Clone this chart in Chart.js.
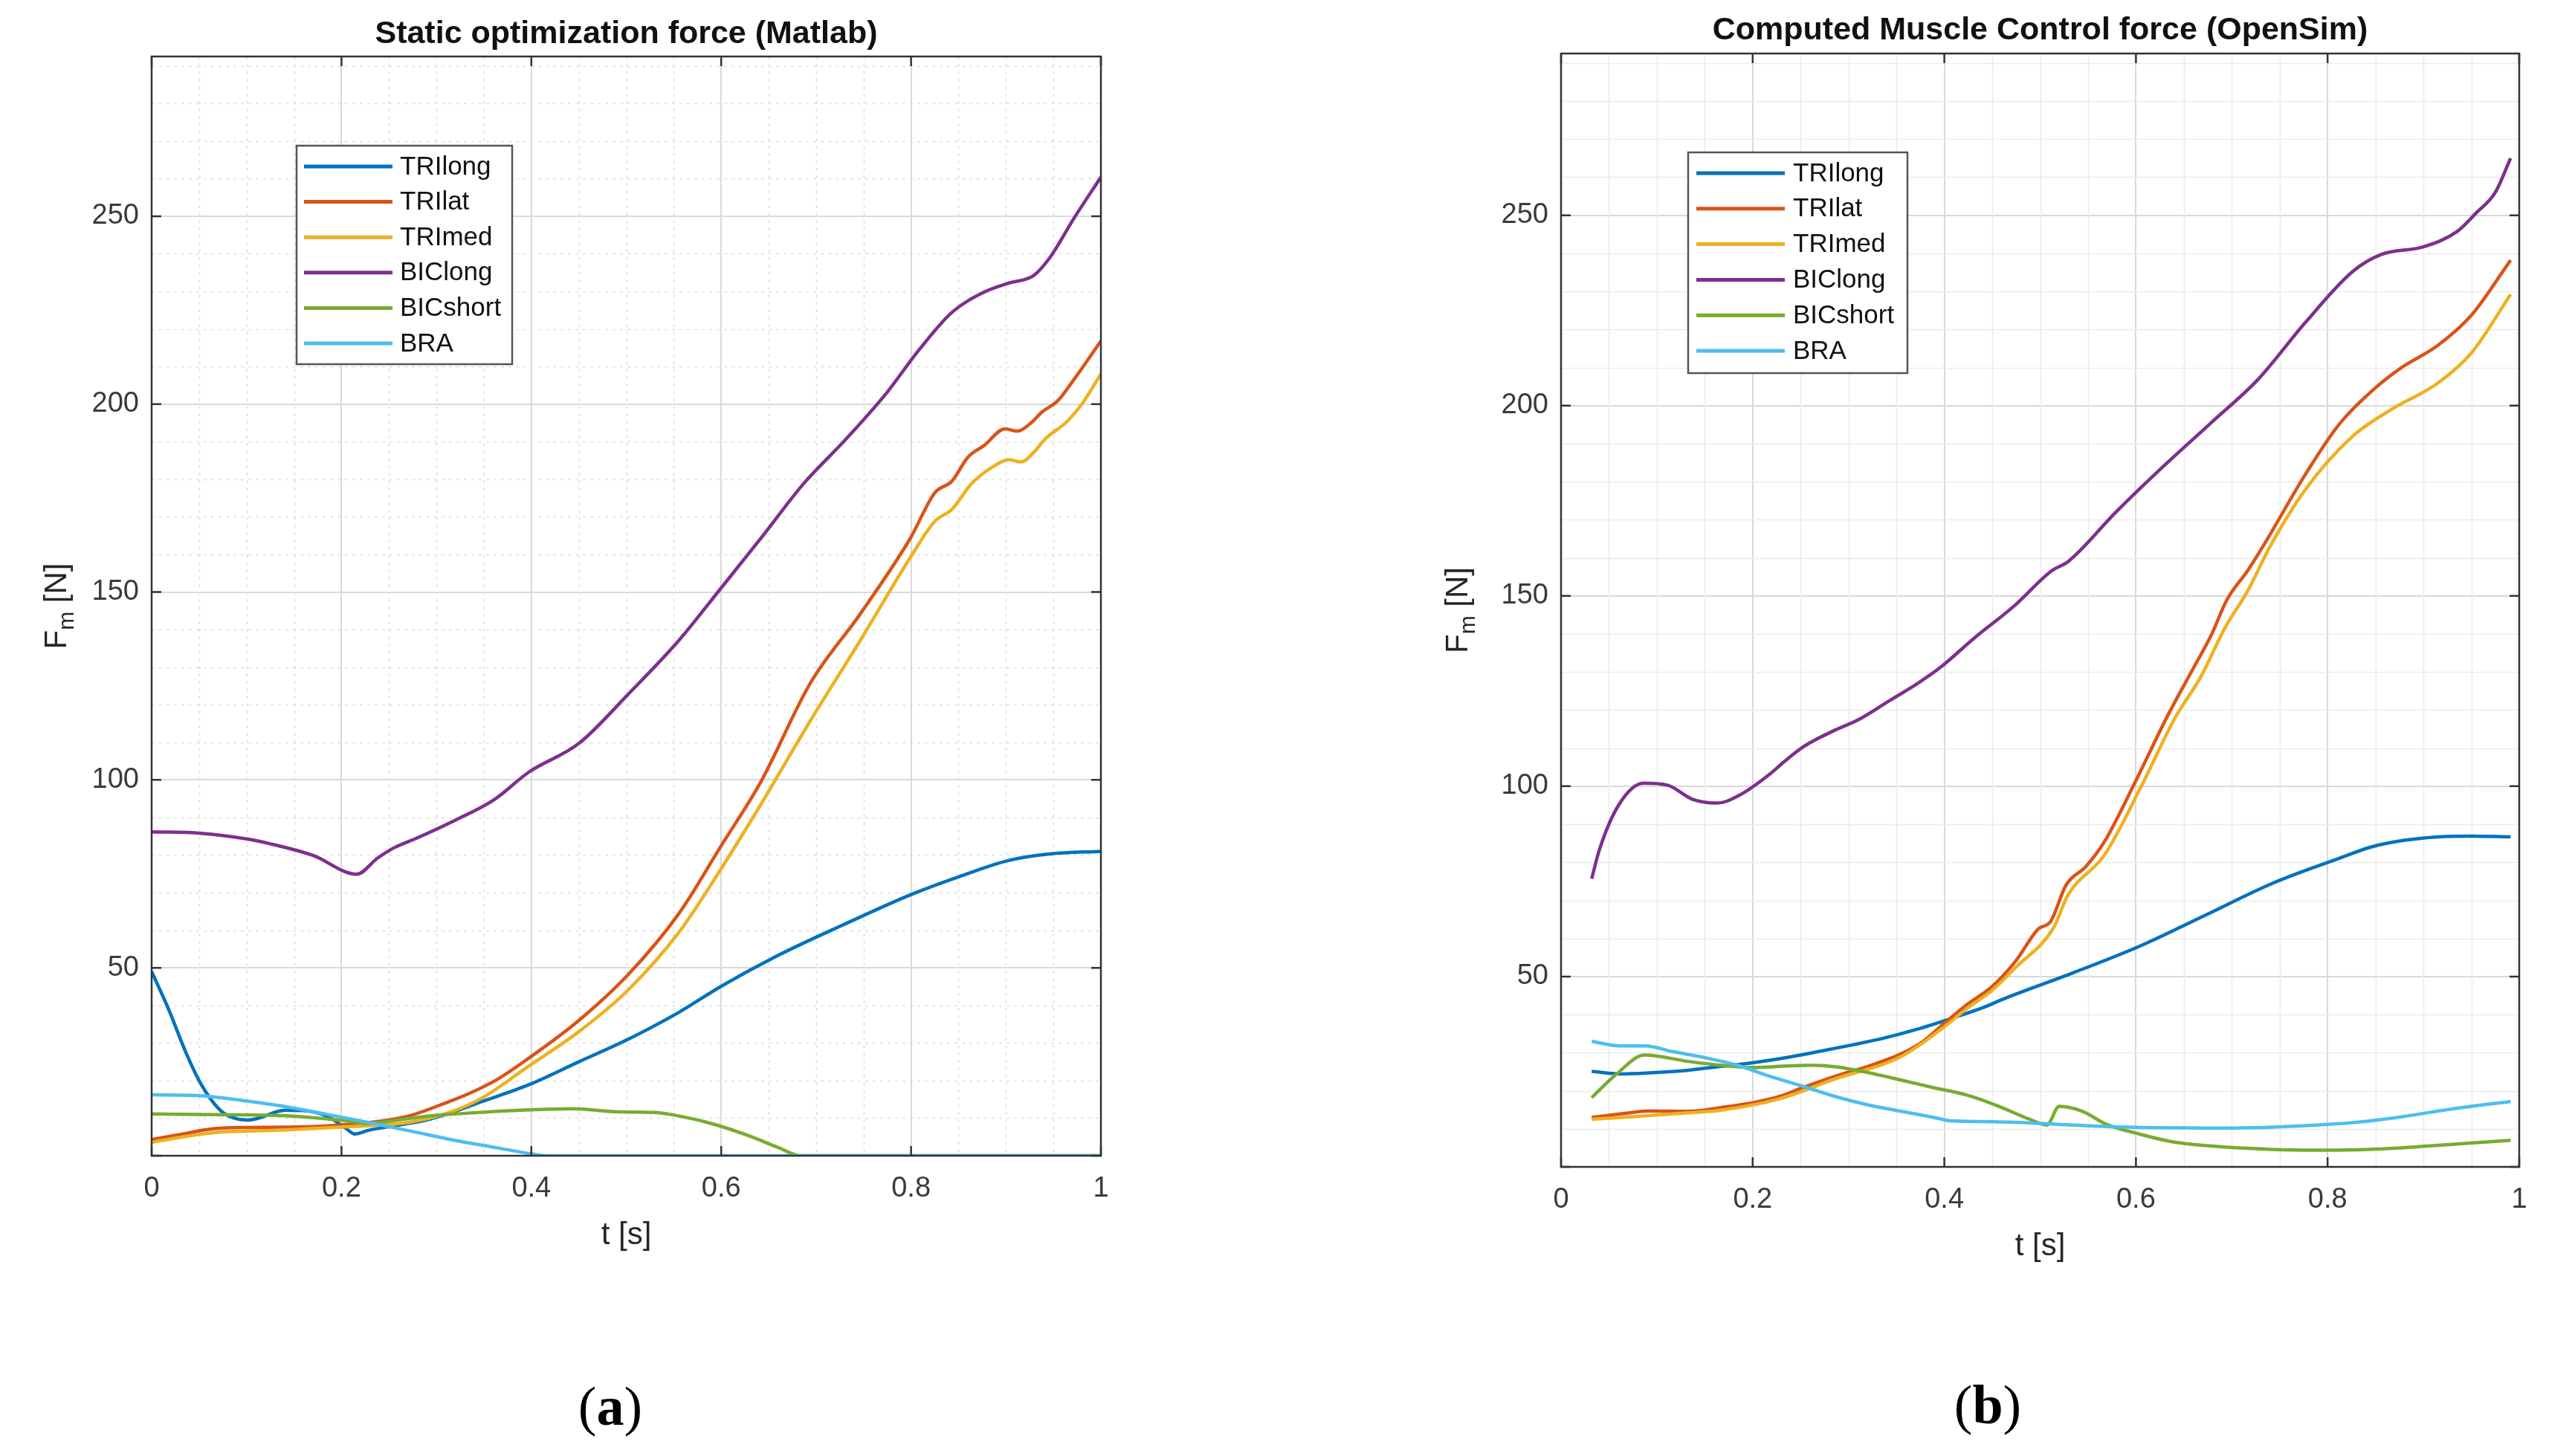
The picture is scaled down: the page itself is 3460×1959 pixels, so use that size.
<!DOCTYPE html>
<html>
<head>
<meta charset="utf-8">
<script src="https://cdn.jsdelivr.net/npm/chart.js@4.4.1/dist/chart.umd.min.js"></script>
<style>
  html, body { margin: 0; padding: 0; background: #fff; }
  #wrap { position: relative; width: 3460px; height: 1959px; overflow: hidden; background: #fff; }
  canvas { position: absolute; top: 0; }
</style>
</head>
<body>
<div id="wrap">
  <canvas id="chartA" width="1730" height="1959" style="left:0;width:1730px;height:1959px"></canvas>
  <canvas id="chartB" width="1730" height="1959" style="left:1730px;width:1730px;height:1959px"></canvas>
</div>
<script>
// ===== Data =====
const seriesNames = ['TRIlong', 'TRIlat', 'TRImed', 'BIClong', 'BICshort', 'BRA'];

const xTicks = [0, 0.2, 0.4, 0.6, 0.8, 1];
const yTicks = [0, 50, 100, 150, 200, 250];

// (a) Static optimization force (Matlab)
const aTriLongT = [0, 0.018, 0.036, 0.051, 0.063, 0.075, 0.09, 0.102, 0.114, 0.129, 0.141, 0.16, 0.185, 0.205, 0.214, 0.229, 0.259, 0.289, 0.31, 0.349, 0.3975, 0.45, 0.502, 0.555, 0.6, 0.659, 0.729, 0.8, 0.851, 0.903, 0.946, 1.0];
const aTriLongF = [49, 38.9, 27.5, 19.5, 14.8, 11.5, 9.8, 9.5, 10.1, 11.5, 12.1, 12, 10.5, 7.2, 5.8, 6.8, 8.1, 9.5, 11, 14.5, 18.9, 25, 31, 38.1, 45.1, 53.2, 61.5, 69.5, 74.3, 78.6, 80.3, 81];

const aTriLatT = [0, 0.033, 0.063, 0.093, 0.138, 0.183, 0.214, 0.244, 0.274, 0.304, 0.334, 0.364, 0.3975, 0.45, 0.502, 0.555, 0.6, 0.642, 0.694, 0.746, 0.799, 0.825, 0.843, 0.86, 0.877, 0.899, 0.912, 0.925, 0.938, 0.955, 0.972, 1.0];
const aTriLatF = [4.3, 5.8, 7.1, 7.5, 7.6, 7.9, 8.5, 9.3, 10.8, 13.5, 16.5, 20.3, 26, 36, 48.2, 64.3, 82.5, 99.6, 125.8, 144, 164.2, 176.4, 179.5, 185.9, 189, 193.4, 192.8, 194.7, 197.9, 201, 206.7, 216.8];

const aTriMedT = [0, 0.063, 0.138, 0.214, 0.259, 0.289, 0.319, 0.349, 0.3975, 0.45, 0.502, 0.555, 0.6, 0.642, 0.694, 0.746, 0.799, 0.825, 0.843, 0.864, 0.886, 0.903, 0.916, 0.929, 0.942, 0.964, 0.981, 1.0];
const aTriMedF = [3.6, 6.1, 6.8, 7.8, 8.5, 9.8, 12, 15.5, 23.9, 33, 44.1, 59.3, 76.4, 93.6, 115.8, 136.9, 159.1, 168.8, 172, 178.9, 183.3, 185.2, 184.6, 187.1, 190.9, 195.3, 200.4, 208];

const aBicLongT = [0, 0.052, 0.1, 0.125, 0.17, 0.216, 0.238, 0.255, 0.28, 0.32, 0.36, 0.3975, 0.45, 0.502, 0.555, 0.6, 0.644, 0.687, 0.73, 0.774, 0.808, 0.843, 0.877, 0.903, 0.929, 0.946, 0.972, 1.0];
const aBicLongF = [86.2, 85.8, 84.3, 83, 79.9, 74.9, 79.2, 81.9, 84.6, 89.3, 94.6, 102.1, 109.7, 122.8, 137, 151.1, 165, 178.9, 190.3, 202.9, 214.3, 224.4, 229.8, 232.2, 234.2, 238.9, 249.6, 260.4];

const aBicShortT = [0, 0.09, 0.15, 0.198, 0.229, 0.259, 0.289, 0.319, 0.364, 0.409, 0.445, 0.488, 0.53, 0.557, 0.592, 0.627, 0.661, 0.683, 1.0];
const aBicShortF = [11.1, 10.9, 10.5, 9.5, 8.6, 9.5, 10.5, 11.1, 11.8, 12.3, 12.5, 11.7, 11.5, 10.5, 8.4, 5.5, 2.1, 0, 0];

const aBraT = [0, 0.048, 0.093, 0.138, 0.183, 0.229, 0.274, 0.319, 0.364, 0.4, 0.415, 1.0];
const aBraF = [16.2, 16, 14.8, 13.2, 11.1, 8.8, 6.5, 4.1, 2.1, 0.5, 0, 0];

// (b) Computed Muscle Control force (OpenSim)
const bTriLongT = [0.032, 0.065, 0.099, 0.133, 0.167, 0.201, 0.235, 0.269, 0.303, 0.338, 0.372, 0.406, 0.44, 0.4655, 0.5345, 0.604, 0.673, 0.7425, 0.8115, 0.8464, 0.8803, 0.9155, 0.95, 0.991];
const bTriLongF = [25.1, 24.4, 24.8, 25.4, 26.4, 27.4, 28.7, 30.3, 32, 33.9, 36.2, 38.9, 41.8, 44.5, 51, 58, 66.2, 74.5, 81, 84.1, 85.8, 86.7, 86.9, 86.7];

const bTriLatT = [0.032, 0.065, 0.092, 0.133, 0.167, 0.201, 0.228, 0.252, 0.286, 0.32, 0.355, 0.378, 0.399, 0.423, 0.45, 0.474, 0.498, 0.511, 0.527, 0.548, 0.567, 0.599, 0.633, 0.661, 0.678, 0.695, 0.717, 0.733, 0.777, 0.8115, 0.851, 0.876, 0.915, 0.95, 0.991];
const bTriLatF = [13, 14, 14.7, 14.6, 15.6, 16.9, 18.5, 20.8, 23.8, 26.4, 29.7, 33, 37.5, 42.5, 47.4, 53.9, 62.5, 64.5, 74, 79, 85.4, 101, 118.5, 131.5, 139.4, 149, 156.8, 163.2, 182, 194.9, 204.9, 209.8, 215.8, 223.7, 238.2];

const bTriMedT = [0.032, 0.133, 0.167, 0.228, 0.286, 0.355, 0.399, 0.423, 0.45, 0.474, 0.514, 0.529, 0.567, 0.606, 0.64, 0.668, 0.692, 0.717, 0.74, 0.777, 0.826, 0.866, 0.915, 0.95, 0.991];
const bTriMedF = [12.5, 14.2, 14.9, 17.9, 23.1, 29, 36.6, 41.5, 46.4, 52.3, 62.8, 71.4, 81.9, 100.2, 117.6, 128.9, 141.2, 151.5, 163, 178, 191.9, 198.9, 205.9, 213.8, 229.2];

const bBicLongT = [0.032, 0.04, 0.06, 0.086, 0.111, 0.137, 0.163, 0.188, 0.218, 0.2327, 0.253, 0.283, 0.312, 0.3416, 0.372, 0.3963, 0.4306, 0.4726, 0.512, 0.5296, 0.579, 0.628, 0.678, 0.7275, 0.7767, 0.826, 0.856, 0.9, 0.935, 0.955, 0.975, 0.991];
const bBicLongF = [75.7, 83.3, 95, 100.8, 100.3, 96.6, 95.6, 97.9, 103.2, 106.4, 110.4, 114.4, 117.7, 122.3, 127, 131.3, 138.8, 147.3, 156.6, 159.1, 172, 183.9, 195.4, 206.9, 221.8, 235.2, 239.7, 241.7, 245.7, 250.6, 256, 265];

const bBicShortT = [0.032, 0.058, 0.087, 0.133, 0.167, 0.201, 0.235, 0.262, 0.286, 0.32, 0.355, 0.389, 0.423, 0.457, 0.488, 0.507, 0.52, 0.544, 0.569, 0.604, 0.638, 0.672, 0.741, 0.792, 0.843, 0.895, 0.946, 0.991];
const bBicShortF = [18.2, 24.4, 29.4, 27.7, 26.7, 26.1, 26.5, 26.7, 26.3, 24.8, 22.8, 20.8, 18.9, 15.9, 12.6, 11, 15.9, 14.6, 11.2, 8.6, 6.6, 5.6, 4.6, 4.4, 4.6, 5.3, 6.2, 7];

const bBraT = [0.032, 0.061, 0.088, 0.116, 0.15, 0.184, 0.218, 0.252, 0.286, 0.32, 0.355, 0.389, 0.406, 0.44, 0.474, 0.518, 0.569, 0.621, 0.672, 0.723, 0.775, 0.826, 0.878, 0.929, 0.991];
const bBraF = [33, 31.8, 31.8, 30.3, 28.7, 26.7, 23.8, 21.2, 18.5, 16.3, 14.6, 13, 12.1, 11.9, 11.7, 11.2, 10.6, 10.3, 10.2, 10.3, 10.8, 11.6, 13.2, 15.2, 17.2];

// ===== Styling =====
const seriesColors = ['#0072BD', '#D95319', '#EDB120', '#7E2F8E', '#77AC30', '#4DBEEE'];
const sansFont = "'Liberation Sans', Arial, Helvetica, sans-serif";
const serifFont = "'Liberation Serif', 'Times New Roman', serif";
const axisInk = '#333333';

Chart.defaults.font.family = sansFont;
Chart.defaults.color = '#3a3a3a';

// minor grid every 0.05 s / 10 N (MATLAB "grid minor")
const xMinor = [];
for (let i = 1; i < 20; i++) if (i % 4 !== 0) xMinor.push(i / 20);
const yMinor = [];
for (let v = 10; v < 300; v += 10) if (v % 50 !== 0) yMinor.push(v);

function buildDatasets(times, forces) {
    return seriesNames.map((name, i) => ({
        label: name,
        data: times[i].map((t, k) => ({ x: t, y: forces[i][k] })),
        borderColor: seriesColors[i],
        backgroundColor: seriesColors[i],
        borderWidth: 4.5,
        pointRadius: 0,
        pointHoverRadius: 0,
        cubicInterpolationMode: 'monotone',
        fill: false,
        order: seriesNames.length - i, // later series drawn on top, like MATLAB
    }));
}

// grid minor, box, inward ticks, axis labels, legend and panel letter
const matlabFrame = {
    id: 'matlabFrame',
    beforeDatasetsDraw(chart, args, o) {
        const { ctx, chartArea: a, scales: { x, y } } = chart;
        ctx.save();
        ctx.strokeStyle = o.minorColor;
        ctx.lineWidth = 1.6;
        ctx.setLineDash(o.minorDash);
        ctx.beginPath();
        xMinor.forEach(t => {
            const px = Math.round(x.getPixelForValue(t)) + 0.5;
            ctx.moveTo(px, a.top); ctx.lineTo(px, a.bottom);
        });
        yMinor.forEach(v => {
            const py = Math.round(y.getPixelForValue(v)) + 0.5;
            if (py <= a.top) return;
            ctx.moveTo(a.left, py); ctx.lineTo(a.right, py);
        });
        ctx.stroke();
        ctx.restore();
    },
    afterDatasetsDraw(chart, args, o) {
        const { ctx } = chart;
        const L = o.legend;
        ctx.save();
        ctx.fillStyle = '#ffffff';
        ctx.fillRect(L.x, L.y, L.w, L.h);
        ctx.strokeStyle = '#555555';
        ctx.lineWidth = 2.5;
        ctx.strokeRect(L.x, L.y, L.w, L.h);
        ctx.font = `35px ${sansFont}`;
        ctx.textBaseline = 'middle';
        ctx.textAlign = 'left';
        chart.data.datasets.forEach((ds, i) => {
            const ry = L.y + L.first + i * L.step;
            ctx.strokeStyle = ds.borderColor;
            ctx.lineWidth = 5;
            ctx.beginPath();
            ctx.moveTo(L.x + L.lineFrom, ry);
            ctx.lineTo(L.x + L.lineTo, ry);
            ctx.stroke();
            ctx.fillStyle = '#111111';
            ctx.fillText(ds.label, L.x + L.textAt, ry + 1);
        });
        ctx.restore();
    },
    afterDraw(chart, args, o) {
        const { ctx, chartArea: a, scales: { x, y } } = chart;
        ctx.save();
        // box
        ctx.strokeStyle = axisInk;
        ctx.lineWidth = 2.5;
        ctx.strokeRect(a.left, a.top, a.right - a.left, a.bottom - a.top);
        // inward ticks on all four sides
        const tl = 13;
        ctx.beginPath();
        xTicks.forEach(t => {
            const px = x.getPixelForValue(t);
            ctx.moveTo(px, a.bottom); ctx.lineTo(px, a.bottom - tl);
            ctx.moveTo(px, a.top); ctx.lineTo(px, a.top + tl);
        });
        yTicks.forEach(v => {
            const py = y.getPixelForValue(v);
            ctx.moveTo(a.left, py); ctx.lineTo(a.left + tl, py);
            ctx.moveTo(a.right, py); ctx.lineTo(a.right - tl, py);
        });
        ctx.stroke();

        // x label
        ctx.fillStyle = '#262626';
        ctx.textAlign = 'center';
        ctx.textBaseline = 'middle';
        ctx.font = `42px ${sansFont}`;
        ctx.fillText('t [s]', (a.left + a.right) / 2, a.bottom + o.xLabelGap);

        // y label F_m [N], rotated
        ctx.translate(a.left - o.yLabelGap, (a.top + a.bottom) / 2);
        ctx.rotate(-Math.PI / 2);
        const big = `42px ${sansFont}`, small = `30px ${sansFont}`;
        ctx.font = big; const wF = ctx.measureText('F').width;
        const wN = ctx.measureText(' [N]').width;
        ctx.font = small; const wm = ctx.measureText('m').width;
        let cx = -(wF + wm + wN) / 2;
        ctx.textAlign = 'left';
        ctx.font = big; ctx.fillText('F', cx, 0); cx += wF;
        ctx.font = small; ctx.fillText('m', cx, 14); cx += wm;
        ctx.font = big; ctx.fillText(' [N]', cx, 0);
        ctx.setTransform(1, 0, 0, 1, 0, 0);

        // panel letter: regular parentheses, bold letter
        ctx.fillStyle = '#000000';
        ctx.textAlign = 'left';
        ctx.textBaseline = 'alphabetic';
        const reg = `74px ${serifFont}`, bold = `bold 74px ${serifFont}`;
        ctx.font = reg; const wp = ctx.measureText('(').width;
        ctx.font = bold; const wl = ctx.measureText(o.panel).width;
        let px = o.panelX - (2 * wp + wl) / 2;
        ctx.font = reg; ctx.fillText('(', px, o.panelY); px += wp;
        ctx.font = bold; ctx.fillText(o.panel, px, o.panelY); px += wl;
        ctx.font = reg; ctx.fillText(')', px, o.panelY);
        ctx.restore();
    }
};

function makeChart(canvasId, title, times, forces, frame) {
    const canvas = document.getElementById(canvasId);
    return new Chart(canvas, {
        type: 'line',
        data: { datasets: buildDatasets(times, forces) },
        plugins: [matlabFrame],
        options: {
            responsive: false,
            devicePixelRatio: 1,
            animation: false,
            events: [],
            layout: { padding: { left: 0, right: frame.padRight, top: 0, bottom: 0 } },
            plugins: {
                legend: { display: false },
                tooltip: { enabled: false },
                title: {
                    display: true,
                    text: title,
                    fullSize: false,
                    color: '#111111',
                    font: { family: sansFont, size: 43, weight: 'bold', lineHeight: 1.2 },
                    padding: { top: frame.titleTop, bottom: frame.titleBottom },
                },
                matlabFrame: frame,
            },
            scales: {
                x: {
                    type: 'linear',
                    min: 0,
                    max: 1,
                    afterBuildTicks: (s) => { s.ticks = xTicks.map(v => ({ value: v })); },
                    afterFit: (s) => { s.height = frame.xAxisHeight; },
                    grid: { color: '#d9d9d9', lineWidth: 2, drawTicks: false },
                    border: { display: false },
                    ticks: { padding: 22, font: { size: 38 }, color: '#3a3a3a', maxRotation: 0,
                             callback: (v) => String(v) },
                },
                y: {
                    type: 'linear',
                    min: 0,
                    max: 292.5,
                    afterBuildTicks: (s) => { s.ticks = yTicks.map(v => ({ value: v })); },
                    afterFit: (s) => { s.width = frame.yAxisWidth; },
                    grid: { color: '#d9d9d9', lineWidth: 2, drawTicks: false },
                    border: { display: false },
                    ticks: { padding: 17, font: { size: 38 }, color: '#3a3a3a',
                             callback: (v) => (v === 0 ? '' : String(v)) },
                },
            },
        },
    });
}

makeChart('chartA', 'Static optimization force (Matlab)',
    [aTriLongT, aTriLatT, aTriMedT, aBicLongT, aBicShortT, aBraT],
    [aTriLongF, aTriLatF, aTriMedF, aBicLongF, aBicShortF, aBraF],
    {
        padRight: 249, yAxisWidth: 204, xAxisHeight: 404,
        titleTop: 20, titleBottom: 4.4,
        minorColor: '#dedede', minorDash: [4, 6],
        xLabelGap: 107, yLabelGap: 127,
        panel: 'a', panelX: 821, panelY: 1917,
        legend: { x: 399, y: 196, w: 290, h: 294, first: 28, step: 47.6, lineFrom: 10, lineTo: 129, textAt: 139 },
    });

makeChart('chartB', 'Computed Muscle Control force (OpenSim)',
    [bTriLongT, bTriLatT, bTriMedT, bBicLongT, bBicShortT, bBraT],
    [bTriLongF, bTriLatF, bTriMedF, bBicLongF, bBicShortF, bBraF],
    {
        padRight: 71, yAxisWidth: 370, xAxisHeight: 389,
        titleTop: 15, titleBottom: 5.4,
        minorColor: '#ececec', minorDash: [],
        xLabelGap: 107, yLabelGap: 138,
        panel: 'b', panelX: 944, panelY: 1915,
        legend: { x: 541, y: 205, w: 295, h: 297, first: 28, step: 47.8, lineFrom: 11, lineTo: 130, textAt: 141 },
    });
</script>
</body>
</html>
